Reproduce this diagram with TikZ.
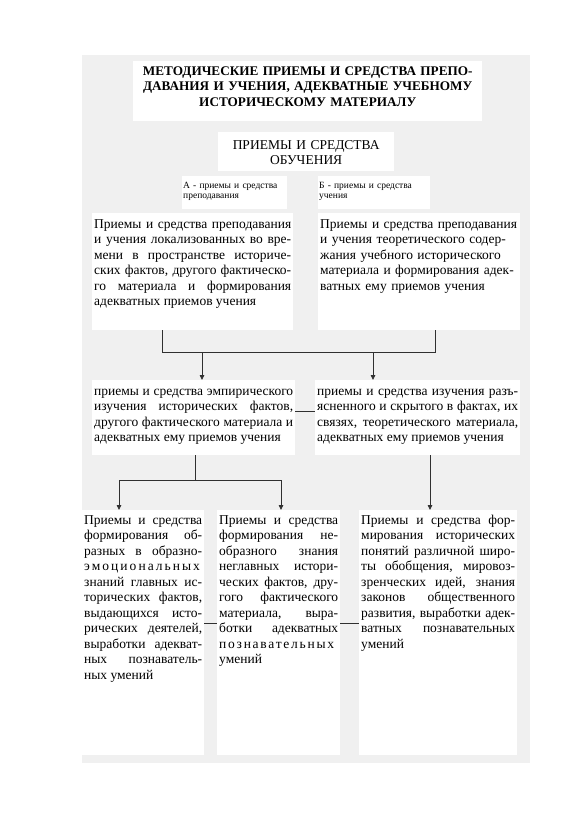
\documentclass[tikz,border=0pt]{standalone}
\usepackage{fontspec}
\setmainfont{Liberation Serif}
\usepackage{tikz}
\usetikzlibrary{arrows.meta}
\definecolor{panel}{HTML}{F0F0F0}
\definecolor{wire}{HTML}{303030}
\newcommand{\bodysize}{\fontsize{13.5}{15.5}\selectfont}
\newcommand{\smallsize}{\fontsize{9.5}{10.5}\selectfont}
\newcommand{\jl}[1]{\makebox[\linewidth][s]{#1}\par}% one justified line
\newcommand{\spread}[2]{{\addfontfeature{LetterSpace=#1}#2}}
\tikzset{
  box/.style={fill=white, anchor=north west, inner xsep=2pt, inner ysep=0pt,
    text height=15pt, align=justify, font=\bodysize},
  link/.style={draw=wire, line width=0.8pt},
  arr/.style={link, -{Triangle[length=5pt,width=4.5pt]}}
}

\begin{document}
\begin{tikzpicture}[x=1pt,y=-1pt]
  \useasboundingbox (0,0) rectangle (571,819);
  \fill[white] (0,0) rectangle (571,819);
  \fill[panel] (82,55) rectangle (530,763);

  \node[box, align=center, text width=345pt, text height=14pt, text depth=46pt,
    font=\bfseries\fontsize{13.2}{15.5}\selectfont] (title) at (133,61)
    {МЕТОДИЧЕСКИЕ ПРИЕМЫ И СРЕДСТВА ПРЕПО-\\ДАВАНИЯ И УЧЕНИЯ, АДЕКВАТНЫЕ УЧЕБНОМУ\\ИСТОРИЧЕСКОМУ МАТЕРИАЛУ};
  \node[box, align=center, text width=172pt, text height=17pt, text depth=22pt] (means) at (218,132)
    {ПРИЕМЫ И СРЕДСТВА\\ОБУЧЕНИЯ};
  \node[box, align=left, font=\smallsize, inner xsep=1pt, text width=103pt, text height=12pt, text depth=21pt] (teach) at (182,176)
    {А - приемы и средства\\преподавания};
  \node[box, align=left, font=\smallsize, inner xsep=1pt, text width=110pt, text height=12pt, text depth=21pt] (learn) at (318,176)
    {Б - приемы и средства\\учения};

  \node[box, text width=197pt, text depth=102pt] (local) at (92,213) {%
    \jl{Приемы и средства преподавания}
    \jl{и учения локализованных во вре-}
    \jl{мени в пространстве историче-}
    \jl{ских фактов, другого фактическо-}
    \jl{го материала и формирования}
    адекватных приемов учения};
  \node[box, align=left, text width=198pt, text depth=102pt] (theory) at (318,213)
    {Приемы и средства преподавания\\и учения теоретического содер-\\жания учебного исторического\\материала и формирования адек-\\ватных ему приемов учения};

  \node[box, text width=199pt, text depth=60pt] (empiric) at (92,380) {%
    \jl{приемы и средства эмпирического}
    \jl{изучения исторических фактов,}
    \jl{другого фактического материала и}
    адекватных ему приемов учения};
  \node[box, text width=201pt, text depth=60pt] (hidden) at (315,380) {%
    \jl{приемы и средства изучения разъ-}
    \jl{ясненного и скрытого в фактах, их}
    \jl{связях, теоретического материала,}
    адекватных ему приемов учения};

  \node[box, text width=118pt, text height=14pt, text depth=231pt] (imagery) at (82,510) {%
    \jl{Приемы и средства}
    \jl{формирования об-}
    \jl{разных в образно-}
    \jl{\spread{15}{эмоциональных}}
    \jl{знаний главных ис-}
    \jl{торических фактов,}
    \jl{выдающихся исто-}
    \jl{рических деятелей,}
    \jl{выработки адекват-}
    \jl{ных познаватель-}
    ных умений};
  \node[box, text width=119pt, text height=14pt, text depth=231pt] (nonimage) at (217,510) {%
    \jl{Приемы и средства}
    \jl{формирования не-}
    \jl{образного знания}
    \jl{неглавных истори-}
    \jl{ческих фактов, дру-}
    \jl{гого фактического}
    \jl{материала, выра-}
    \jl{ботки адекватных}
    \jl{\spread{13}{познавательных}}
    умений};
  \node[box, text width=154pt, text height=14pt, text depth=231pt] (concepts) at (359,510) {%
    \jl{Приемы и средства фор-}
    \jl{мирования исторических}
    \jl{понятий различной широ-}
    \jl{ты обобщения, мировоз-}
    \jl{зренческих идей, знания}
    \jl{законов общественного}
    \jl{развития, выработки адек-}
    \jl{ватных познавательных}
    умений};

  \coordinate (j1) at (162,352);
  \coordinate (j2) at (435,352);
  \coordinate (a1) at (202,352);
  \coordinate (a2) at (373,352);
  \draw[link] (local.south -| j1) -- (j1) -- (j2) -- (theory.south -| j2);
  \draw[arr] (a1) -- (a1 |- empiric.north);
  \draw[arr] (a2) -- (a2 |- hidden.north);
  \coordinate (k1) at (0,411);
  \draw[link] (empiric.east |- k1) -- (hidden.west |- k1);

  \coordinate (j3) at (195,480);
  \coordinate (j4) at (119,480);
  \coordinate (j5) at (281,480);
  \coordinate (j6) at (430,480);
  \draw[link] (empiric.south -| j3) -- (j3);
  \draw[link] (j4) -- (j5);
  \draw[arr] (j4) -- (j4 |- imagery.north);
  \draw[arr] (j5) -- (j5 |- nonimage.north);
  \draw[arr] (hidden.south -| j6) -- (j6 |- concepts.north);
  \coordinate (k2) at (0,623);
  \draw[link] (imagery.east |- k2) -- (nonimage.west |- k2);
  \draw[link] (nonimage.east |- k2) -- (concepts.west |- k2);
\end{tikzpicture}
\end{document}
